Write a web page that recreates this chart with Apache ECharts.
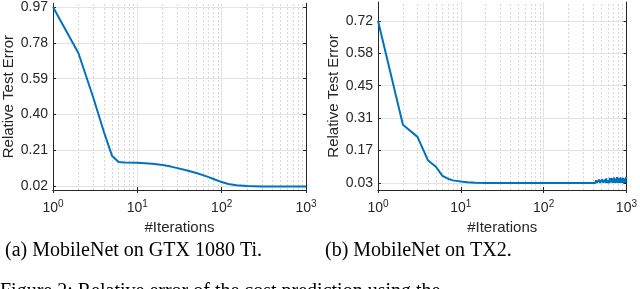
<!DOCTYPE html>
<html><head><meta charset="utf-8">
<script src="https://cdn.jsdelivr.net/npm/echarts@6/dist/echarts.min.js"></script>
<style>html,body{margin:0;padding:0;background:#fff;}#c{width:640px;height:289px;}</style>
</head><body><div id="c"></div>
<script>
// ---- data ----
const itersA = [1, 2, 3, 4, 5, 6, 7, 10, 15, 20, 25, 30, 40, 50, 60, 70, 80, 100, 120, 150, 200, 300, 1000];
const errA   = [0.97, 0.726, 0.49, 0.31, 0.182, 0.148, 0.146, 0.144, 0.139, 0.132, 0.124, 0.116, 0.102, 0.09, 0.079, 0.068, 0.058, 0.042, 0.032, 0.025, 0.021, 0.019, 0.019];
const itersB = [1, 2, 3, 4, 5, 6, 7, 8, 10, 12, 15, 20, 50, 100, 200, 300, 390,
  400, 410, 420, 430, 440, 450, 460, 470, 480, 490,
  500, 510, 520, 530, 540, 550, 560, 570, 580, 590,
  600, 610, 620, 630, 640, 650, 660, 670, 680, 690,
  700, 710, 720, 730, 740, 750, 760, 770, 780, 790,
  800, 810, 820, 830, 840, 850, 860, 870, 880, 890,
  900, 910, 920, 930, 940, 950, 960, 970, 980, 990, 1000];
const errB   = [0.72, 0.278, 0.226, 0.127, 0.099, 0.06, 0.048, 0.041, 0.036, 0.033, 0.031, 0.03, 0.03, 0.03, 0.03, 0.03, 0.03,
  0.030, 0.036, 0.030, 0.041, 0.031, 0.034, 0.030, 0.044, 0.031, 0.038,
  0.030, 0.046, 0.032, 0.037, 0.030, 0.043, 0.031, 0.049, 0.030, 0.040,
  0.032, 0.047, 0.030, 0.052, 0.033, 0.041, 0.030, 0.050, 0.031, 0.045,
  0.030, 0.053, 0.032, 0.044, 0.030, 0.049, 0.033, 0.055, 0.031, 0.046,
  0.030, 0.051, 0.032, 0.043, 0.030, 0.054, 0.031, 0.048, 0.030, 0.044,
  0.032, 0.052, 0.030, 0.047, 0.031, 0.050, 0.030, 0.041, 0.033, 0.046, 0.056];
const yTicksA = [0.02, 0.21, 0.40, 0.59, 0.78, 0.97];
const yLabelsA = ['0.02', '0.21', '0.40', '0.59', '0.78', '0.97'];
const yTicksB = [0.03, 0.168, 0.306, 0.444, 0.582, 0.72];
const yLabelsB = ['0.03', '0.17', '0.31', '0.45', '0.58', '0.72'];
const minorX = [2,3,4,5,6,7,8,9,20,30,40,50,60,70,80,90,200,300,400,500,600,700,800,900];
const captions = ['(a) MobileNet on GTX 1080 Ti.', '(b) MobileNet on TX2.'];
const figureText = 'Figure 2: Relative error of the cost prediction using the';

const AX = '#262626', GRID = '#e3e3e3', BLUE = '#0072BD';
const FONT = '"Liberation Sans", Arial, sans-serif';
const SERIF = '20px "Liberation Serif", "Times New Roman", serif';

function xAxes(gi) {
  return [{
    type: 'log', logBase: 10, min: 1, max: 1000, gridIndex: gi, position: 'bottom',
    name: '#Iterations', nameLocation: 'middle', nameGap: 26,
    nameTextStyle: { color: AX, fontSize: 15, fontFamily: FONT },
    axisLine: { show: true, lineStyle: { color: AX, width: 1 } },
    axisTick: { show: true, inside: true, length: 3, lineStyle: { color: AX } },
    axisLabel: {
      margin: 9, color: AX, fontFamily: FONT,
      formatter: v => '{b|10}{s|' + Math.round(Math.log10(v)) + '}',
      rich: { b: { fontSize: 14, fontFamily: FONT, color: AX }, s: { fontSize: 10, fontFamily: FONT, color: AX, verticalAlign: 'top', padding: [0, 0, 9, 0] } }
    },
    splitLine: { show: true, lineStyle: { color: GRID, width: 1 } },
    minorTick: { show: false }, minorSplitLine: { show: false }
  }, {
    type: 'log', logBase: 10, min: 1, max: 1000, gridIndex: gi, position: 'top',
    axisLine: { show: true, lineStyle: { color: AX, width: 1 } },
    axisTick: { show: true, inside: true, length: 3, lineStyle: { color: AX } },
    axisLabel: { show: false }, splitLine: { show: false }
  }];
}
function yAxes(gi, max, ticks, labels) {
  return [{
    type: 'value', gridIndex: gi, min: 0, max: max, position: 'left',
    name: 'Relative Test Error', nameLocation: 'middle', nameGap: 29,
    nameTextStyle: { color: AX, fontSize: 15, fontFamily: FONT },
    axisLine: { show: true, lineStyle: { color: AX, width: 1 } },
    axisTick: { show: true, inside: true, length: 3, customValues: ticks, lineStyle: { color: AX } },
    axisLabel: { customValues: ticks, color: AX, fontSize: 14, fontFamily: FONT, margin: 5,
      formatter: v => { const i = ticks.findIndex(t => Math.abs(t - v) < 1e-6); return labels[i]; } },
    splitLine: { show: true, lineStyle: { color: GRID, width: 1 } }
  }, {
    type: 'value', gridIndex: gi, min: 0, max: max, position: 'right',
    axisLine: { show: true, lineStyle: { color: AX, width: 1 } },
    axisTick: { show: true, inside: true, length: 3, customValues: ticks, lineStyle: { color: AX } },
    axisLabel: { show: false }, splitLine: { show: false }
  }];
}
function minorLines(xi, yi) {
  return {
    type: 'line', xAxisIndex: xi, yAxisIndex: yi, data: [], silent: true,
    markLine: {
      silent: true, symbol: 'none', label: { show: false },
      lineStyle: { color: '#d8d8d8', type: [2, 2], width: 1 },
      data: minorX.map(x => ({ xAxis: x }))
    }
  };
}

const chart = echarts.init(document.getElementById('c'), null, { renderer: 'canvas' });
chart.setOption({
  animation: false,
  backgroundColor: '#fff',
  grid: [
    { left: 53, top: 2, width: 253, height: 188 },
    { left: 378, top: 2, width: 252, height: 188 }
  ],
  xAxis: [...xAxes(0), ...xAxes(1)],
  yAxis: [...yAxes(0, 0.99, yTicksA, yLabelsA), ...yAxes(1, 0.8, yTicksB, yLabelsB)],
  graphic: [
    { type: 'text', left: 5, top: 241, style: { text: captions[0], font: SERIF, fill: '#000' } },
    { type: 'text', left: 325, top: 241, style: { text: captions[1], font: SERIF, fill: '#000' } },
    { type: 'text', left: 0, top: 282, style: { text: figureText, font: SERIF, fill: '#000' } }
  ],
  series: [
    minorLines(0, 0),
    minorLines(2, 2),
    { type: 'line', xAxisIndex: 0, yAxisIndex: 0, data: itersA.map((x, i) => [x, errA[i]]), showSymbol: false, lineStyle: { color: BLUE, width: 2 }, z: 5 },
    { type: 'line', xAxisIndex: 2, yAxisIndex: 2, data: itersB.map((x, i) => [x, errB[i]]), showSymbol: false, lineStyle: { color: BLUE, width: 2 }, z: 5 }
  ]
});
</script></body></html>
